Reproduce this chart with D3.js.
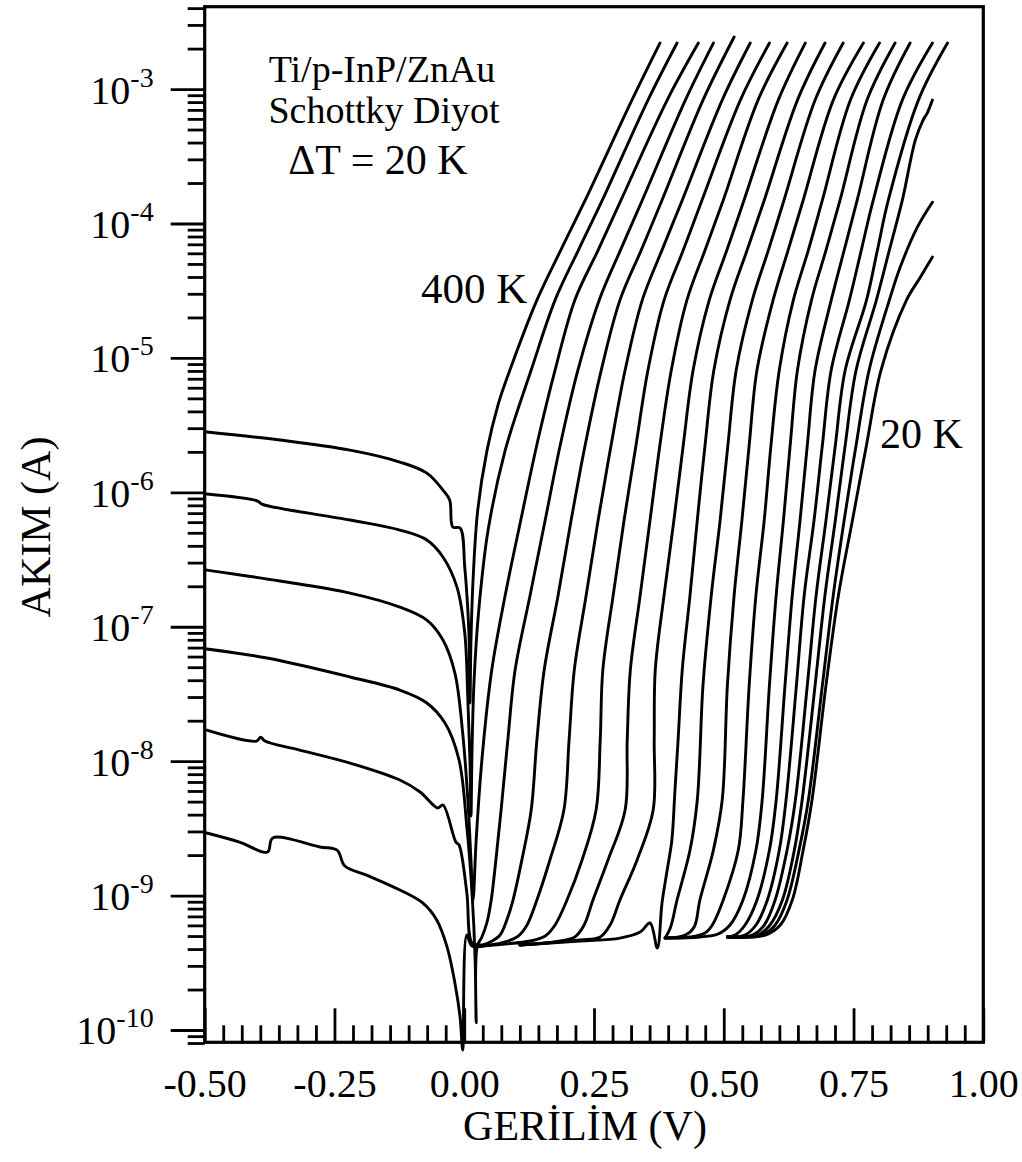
<!DOCTYPE html>
<html>
<head>
<meta charset="utf-8">
<script src="https://cdn.jsdelivr.net/npm/d3@7"></script>
<style>
  html, body { margin: 0; padding: 0; background: #fff; }
  svg { display: block; }
  text { font-family: "Liberation Serif", "Times New Roman", serif; fill: #000; }
</style>
</head>
<body>
<svg id="chart" width="1022" height="1162"></svg>
<script>
// I–V characteristics of a Ti/p-InP/ZnAu Schottky diode, 20 K … 400 K in 20 K steps.
// Each series: [voltage (V), |current| (A)].

const t400 = [[-0.496,2.81e-6],[-0.355,2.45e-6],[-0.220,2.06e-6],[-0.124,1.68e-6],[-0.072,1.39e-6],[-0.041,1.04e-6],[-0.028,8.76e-7],[-0.022,5.52e-7],[-0.008,5.42e-7],[0.001,2.78e-7],[0.009,8.98e-8],[0.011,2.71e-8],
  [0.013,7.96e-8],[0.017,2.23e-7],[0.026,7.38e-7],[0.044,2.06e-6],[0.065,4.46e-6],[0.088,8.12e-6],[0.140,2.69e-5],[0.186,6.34e-5],[0.233,1.49e-4],[0.323,8.28e-4],[0.377,2.20e-3]];

const t380 = [[-0.496,9.71e-7],[-0.398,8.61e-7],[-0.390,8.18e-7],[-0.220,6.22e-7],[-0.124,5.24e-7],[-0.072,4.42e-7],[-0.041,3.30e-7],[-0.014,1.97e-7],[0.001,8.98e-8],[0.007,2.85e-8],[0.011,1.02e-8],[0.013,3.91e-9],
  [0.015,1.21e-8],[0.019,4.01e-8],[0.028,1.33e-7],[0.046,5.24e-7],[0.079,2.06e-6],[0.129,8.12e-6],[0.175,2.69e-5],[0.220,6.34e-5],[0.266,1.49e-4],[0.354,8.28e-4],[0.410,2.20e-3]];

const t360 = [[-0.496,2.64e-7],[-0.355,2.19e-7],[-0.220,1.78e-7],[-0.124,1.40e-7],[-0.072,1.12e-7],[-0.041,7.96e-8],[-0.018,4.52e-8],[-0.003,1.62e-8],[0.007,5.14e-9],[0.013,1.84e-9],[0.017,9.27e-10],
  [0.023,2.59e-9],[0.034,1.02e-8],[0.053,4.76e-8],[0.079,1.72e-7],[0.109,6.22e-7],[0.142,2.45e-6],[0.175,8.12e-6],[0.213,2.69e-5],[0.258,6.34e-5],[0.302,1.49e-4],[0.391,8.28e-4],[0.451,2.20e-3]];

const t340 = [[-0.496,6.83e-8],[-0.380,5.85e-8],[-0.220,4.23e-8],[-0.124,3.38e-8],[-0.072,2.71e-8],[-0.037,1.92e-8],[-0.010,1.02e-8],[0.005,3.24e-9],[0.015,1.05e-9],[0.021,3.32e-10],[0.023,1.13e-10],[0.025,4.21e-10],
  [0.034,4.92e-10],[0.044,6.36e-10],[0.052,9.27e-10],[0.061,1.84e-9],[0.071,4.33e-9],[0.084,1.44e-8],[0.098,4.76e-8],[0.127,1.72e-7],[0.156,6.22e-7],[0.185,2.25e-6],[0.219,8.12e-6],[0.260,2.69e-5],[0.301,6.34e-5],[0.343,1.49e-4],[0.426,8.28e-4],[0.480,2.20e-3]];

const t320 = [[-0.496,1.70e-8],[-0.400,1.41e-8],[-0.392,1.51e-8],[-0.384,1.41e-8],[-0.317,1.21e-8],[-0.220,9.68e-9],[-0.124,7.24e-9],[-0.085,5.90e-9],[-0.051,4.48e-9],[-0.041,4.72e-9],[-0.016,2.50e-9],[-0.010,2.38e-9],[0.005,1.05e-9],[0.015,4.44e-10],
  [0.030,4.29e-10],[0.050,4.52e-10],[0.069,5.09e-10],[0.082,6.58e-10],[0.094,9.27e-10],[0.111,1.84e-9],[0.129,4.33e-9],[0.140,1.44e-8],[0.154,4.76e-8],[0.181,1.72e-7],[0.206,6.22e-7],[0.233,2.25e-6],[0.264,8.12e-6],[0.300,2.69e-5],[0.341,6.34e-5],[0.381,1.49e-4],[0.460,8.28e-4],[0.520,2.44e-3]];

const t300 = [[-0.496,2.92e-9],[-0.433,2.50e-9],[-0.379,2.11e-9],[-0.369,2.68e-9],[-0.278,2.30e-9],[-0.245,2.18e-9],[-0.230,1.66e-9],[-0.188,1.42e-9],[-0.124,1.10e-9],[-0.080,8.81e-10],[-0.053,6.58e-10],[-0.033,4.14e-10],[-0.018,2.24e-10],[-0.008,1.25e-10],[-0.003,7.10e-11],[0.005,5.09e-10],[0.015,4.21e-10],
  [0.050,4.29e-10],[0.079,4.52e-10],[0.104,5.00e-10],[0.121,6.04e-10],[0.140,9.27e-10],[0.165,1.84e-9],[0.192,4.33e-9],[0.202,1.44e-8],[0.212,4.76e-8],[0.235,1.72e-7],[0.258,6.22e-7],[0.283,2.25e-6],[0.310,8.12e-6],[0.343,2.69e-5],[0.381,6.34e-5],[0.420,1.49e-4],[0.497,8.28e-4],[0.551,2.20e-3]];

const t280 = [[0.026,4.21e-10],[0.079,4.36e-10],[0.127,4.59e-10],[0.156,5.00e-10],[0.175,6.04e-10],[0.198,9.27e-10],[0.227,1.84e-9],[0.254,4.33e-9],[0.262,1.44e-8],[0.267,4.76e-8],[0.287,1.72e-7],[0.308,6.22e-7],[0.331,2.25e-6],[0.354,8.12e-6],[0.385,2.69e-5],[0.422,6.34e-5],[0.458,1.49e-4],[0.532,8.28e-4],[0.588,2.20e-3]];

const t260 = [[0.107,4.29e-10],[0.185,4.59e-10],[0.213,4.92e-10],[0.231,6.04e-10],[0.248,9.27e-10],[0.277,1.84e-9],[0.310,4.33e-9],[0.314,1.44e-8],[0.320,4.76e-8],[0.339,1.72e-7],[0.358,6.22e-7],[0.377,2.25e-6],[0.399,8.12e-6],[0.429,2.69e-5],[0.464,6.34e-5],[0.499,1.49e-4],[0.566,8.28e-4],[0.622,2.20e-3]];

const t240 = [[0.107,4.29e-10],[0.223,4.67e-10],[0.262,4.92e-10],[0.281,6.04e-10],[0.300,9.27e-10],[0.333,1.84e-9],[0.364,4.33e-9],[0.366,1.44e-8],[0.368,4.76e-8],[0.385,1.72e-7],[0.404,6.22e-7],[0.422,2.25e-6],[0.441,8.12e-6],[0.472,2.69e-5],[0.506,6.34e-5],[0.539,1.49e-4],[0.605,8.28e-4],[0.657,2.20e-3]];

const t220 = [[0.107,4.29e-10],[0.223,4.59e-10],[0.300,4.83e-10],[0.339,5.36e-10],[0.358,6.25e-10],[0.372,4.07e-10],[0.381,8.81e-10],[0.391,1.55e-9],[0.400,2.59e-9],[0.406,6.10e-9],[0.412,1.44e-8],[0.420,4.76e-8],[0.435,1.72e-7],[0.449,6.22e-7],[0.464,2.25e-6],[0.481,8.12e-6],[0.512,2.69e-5],[0.545,6.34e-5],[0.578,1.49e-4],[0.642,8.28e-4],[0.695,2.20e-3]];

const t200 = [[0.387,4.83e-10],[0.397,5.74e-10],[0.410,9.27e-10],[0.435,2.18e-9],[0.449,5.14e-9],[0.460,3.68e-8],[0.476,1.72e-7],[0.493,6.22e-7],[0.508,2.25e-6],[0.524,8.12e-6],[0.555,2.69e-5],[0.586,6.34e-5],[0.616,1.49e-4],[0.676,8.28e-4],[0.730,2.20e-3]];

const t180 = [[0.387,4.83e-10],[0.426,5.09e-10],[0.443,5.84e-10],[0.454,9.27e-10],[0.480,2.18e-9],[0.497,5.14e-9],[0.507,3.68e-8],[0.520,1.72e-7],[0.535,6.22e-7],[0.549,2.25e-6],[0.564,8.12e-6],[0.595,2.69e-5],[0.624,6.34e-5],[0.653,1.49e-4],[0.711,8.28e-4],[0.769,2.20e-3]];

const t160 = [[0.387,4.83e-10],[0.435,4.92e-10],[0.464,5.27e-10],[0.478,6.04e-10],[0.499,9.27e-10],[0.528,2.18e-9],[0.537,5.14e-9],[0.549,3.68e-8],[0.562,1.72e-7],[0.578,6.22e-7],[0.591,2.25e-6],[0.607,8.12e-6],[0.634,2.69e-5],[0.663,6.34e-5],[0.690,1.49e-4],[0.744,8.28e-4],[0.800,2.20e-3]];

const t140 = [[0.387,4.83e-10],[0.454,4.92e-10],[0.489,5.18e-10],[0.512,6.04e-10],[0.537,9.27e-10],[0.562,2.18e-9],[0.574,5.14e-9],[0.588,3.68e-8],[0.601,1.72e-7],[0.615,6.22e-7],[0.628,2.25e-6],[0.642,8.12e-6],[0.669,2.69e-5],[0.697,6.34e-5],[0.724,1.49e-4],[0.776,8.28e-4],[0.830,2.20e-3]];

const t120 = [[0.507,4.92e-10],[0.522,5.09e-10],[0.541,6.04e-10],[0.564,9.27e-10],[0.588,2.18e-9],[0.601,5.14e-9],[0.618,3.68e-8],[0.632,1.72e-7],[0.647,6.22e-7],[0.661,2.25e-6],[0.676,8.12e-6],[0.707,2.69e-5],[0.732,6.34e-5],[0.757,1.49e-4],[0.807,8.28e-4],[0.859,2.20e-3]];

const t100 = [[0.507,4.92e-10],[0.541,5.09e-10],[0.562,6.04e-10],[0.584,9.27e-10],[0.607,2.18e-9],[0.620,5.14e-9],[0.640,3.68e-8],[0.655,1.72e-7],[0.674,6.22e-7],[0.690,2.25e-6],[0.707,8.12e-6],[0.742,2.69e-5],[0.765,6.34e-5],[0.788,1.49e-4],[0.844,8.28e-4],[0.902,2.20e-3]];

const t80 = [[0.507,4.92e-10],[0.555,5.09e-10],[0.578,6.04e-10],[0.599,9.27e-10],[0.622,2.18e-9],[0.638,5.14e-9],[0.661,3.68e-8],[0.678,1.72e-7],[0.697,6.22e-7],[0.715,2.25e-6],[0.734,8.12e-6],[0.775,2.69e-5],[0.796,6.34e-5],[0.817,1.49e-4],[0.875,8.28e-4],[0.931,2.20e-3]];

const t60 = [[0.507,4.92e-10],[0.566,5.09e-10],[0.589,6.04e-10],[0.613,9.27e-10],[0.636,2.18e-9],[0.651,5.14e-9],[0.676,3.68e-8],[0.695,1.72e-7],[0.715,6.22e-7],[0.734,2.25e-6],[0.755,8.12e-6],[0.794,2.69e-5],[0.819,6.34e-5],[0.844,1.49e-4],[0.869,4.17e-4],[0.884,5.88e-4],[0.892,6.63e-4],[0.902,8.28e-4]];

const t40 = [[0.507,4.92e-10],[0.574,5.09e-10],[0.599,6.04e-10],[0.622,9.27e-10],[0.645,2.18e-9],[0.663,5.14e-9],[0.690,3.68e-8],[0.711,1.72e-7],[0.732,6.22e-7],[0.755,2.25e-6],[0.780,8.12e-6],[0.819,2.69e-5],[0.840,4.74e-5],[0.873,9.40e-5],[0.902,1.44e-4]];

const t20 = [[0.507,4.92e-10],[0.580,5.09e-10],[0.609,6.04e-10],[0.632,9.27e-10],[0.653,2.18e-9],[0.670,5.14e-9],[0.697,3.68e-8],[0.721,1.72e-7],[0.748,6.22e-7],[0.775,2.25e-6],[0.803,8.12e-6],[0.852,2.69e-5],[0.879,4.00e-5],[0.902,5.63e-5]];

const series = [t400, t380, t360, t340, t320, t300, t280, t260, t240, t220,
                t200, t180, t160, t140, t120, t100, t80, t60, t40, t20];

// Axis ticks and labels
const xTickValues = [-0.50, -0.25, 0.00, 0.25, 0.50, 0.75, 1.00];
const yDecades = [-10, -9, -8, -7, -6, -5, -4, -3];

// Text
const xTitle = "GERİLİM (V)";
const yTitle = "AKIM (A)";
const infoLines = ["Ti/p-InP/ZnAu", "Schottky Diyot"];
const stepLabel = "ΔT = 20 K";
const hotLabel = "400 K";
const coldLabel = "20 K";

// ---------------------------------------------------------------------------
const svg = d3.select("#chart");

const x = d3.scaleLinear().domain([-0.5, 1.0]).range([204.7, 983.3]);
const y = d3.scaleLog().domain([8.1e-11, 4.1e-3]).range([1042.3, 6.7]);

const tickStroke = 2.8;

// minor x ticks: six between every pair of labelled ticks
const xMinor = d3.range(0, 43).filter(i => i % 7 !== 0).map(i => -0.5 + i * 0.25 / 7);

// log minor ticks 2..9 inside the domain
const yHi = y.domain()[1];
const yMinor = [];
for (let e = -11; e <= -3; e++) {
  for (let m = 2; m <= 9; m++) {
    const v = m * Math.pow(10, e);
    if (v >= 7.95e-11 && v <= yHi * 1.001) yMinor.push(v);
  }
}

function styleAxis(g) {
  g.attr("font-size", null).attr("font-family", null);
  g.select(".domain").remove();
  g.selectAll(".tick line").attr("stroke", "#000").attr("stroke-width", tickStroke);
}

// bottom axis (ticks point into the plot)
svg.append("g")
  .attr("transform", `translate(0,${y.range()[0]})`)
  .call(d3.axisBottom(x).tickValues(xMinor).tickSizeInner(-17).tickSizeOuter(0).tickFormat(""))
  .call(styleAxis);

svg.append("g")
  .attr("transform", `translate(0,${y.range()[0]})`)
  .call(d3.axisBottom(x).tickValues(xTickValues).tickSizeInner(-34).tickSizeOuter(0)
        .tickPadding(26.5).tickFormat(v => v.toFixed(2)))
  .call(styleAxis)
  .call(g => g.selectAll(".tick text").attr("font-size", 40).attr("fill", "#000"));

// left axis (ticks point outward)
svg.append("g")
  .attr("transform", `translate(${x.range()[0]},0)`)
  .call(d3.axisLeft(y).tickValues(yMinor).tickSizeInner(17).tickSizeOuter(0).tickFormat(""))
  .call(styleAxis);

const yMajor = yDecades.map(e => Math.pow(10, e));
const yAxisG = svg.append("g")
  .attr("transform", `translate(${x.range()[0]},0)`)
  .call(d3.axisLeft(y).tickValues(yMajor).tickSizeInner(34).tickSizeOuter(0).tickFormat(""))
  .call(styleAxis);

yAxisG.selectAll(".tick").each(function(d) {
  const t = d3.select(this).select("text");
  t.text(null).attr("x", -51).attr("y", 14).attr("dy", null)
    .attr("text-anchor", "end").attr("font-size", 40).attr("fill", "#000");
  t.append("tspan").text("10");
  t.append("tspan").attr("dy", -17).attr("font-size", 28)
    .text("-" + Math.round(-Math.log10(d)));
});

// frame
svg.append("rect")
  .attr("x", x.range()[0]).attr("y", y.range()[1])
  .attr("width", x.range()[1] - x.range()[0])
  .attr("height", y.range()[0] - y.range()[1])
  .attr("fill", "none").attr("stroke", "#000").attr("stroke-width", 3.2);

// curves
const line = d3.line()
  .x(d => x(d[0]))
  .y(d => y(d[1]))
  .curve(d3.curveCatmullRom.alpha(0.5));

svg.append("g")
  .selectAll("path")
  .data(series)
  .join("path")
  .attr("d", line)
  .attr("fill", "none")
  .attr("stroke", "#000")
  .attr("stroke-width", 2.9)
  .attr("stroke-linejoin", "round")
  .attr("stroke-linecap", "round");

// axis titles
svg.append("text")
  .attr("x", 585).attr("y", 1140)
  .attr("text-anchor", "middle").attr("font-size", 42)
  .text(xTitle);

svg.append("text")
  .attr("transform", "translate(50,527) rotate(-90)")
  .attr("text-anchor", "middle").attr("font-size", 42)
  .text(yTitle);

// annotations
svg.append("text").attr("x", 382).attr("y", 82)
  .attr("text-anchor", "middle").attr("font-size", 38).text(infoLines[0]);
svg.append("text").attr("x", 384).attr("y", 123)
  .attr("text-anchor", "middle").attr("font-size", 38).text(infoLines[1]);
svg.append("text").attr("x", 378).attr("y", 174)
  .attr("text-anchor", "middle").attr("font-size", 42).text(stepLabel);
svg.append("text").attr("x", 421).attr("y", 303)
  .attr("font-size", 43).text(hotLabel);
svg.append("text").attr("x", 880).attr("y", 448)
  .attr("font-size", 42).text(coldLabel);
</script>
</body>
</html>
